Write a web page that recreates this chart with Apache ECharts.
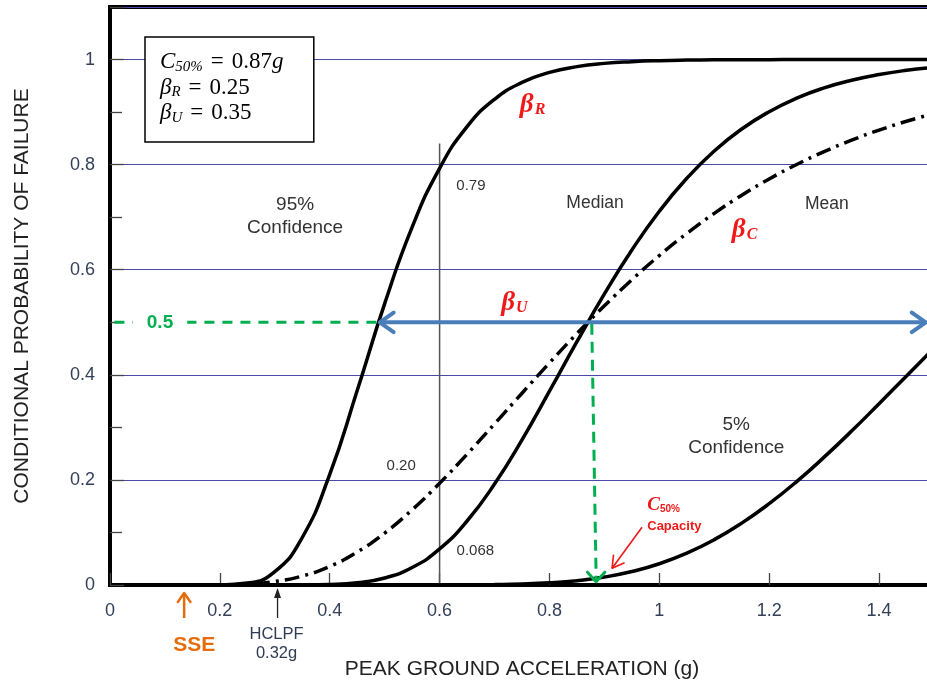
<!DOCTYPE html>
<html><head><meta charset="utf-8">
<script src="https://cdn.jsdelivr.net/npm/echarts@6/dist/echarts.min.js"></script>
<style>html,body{margin:0;padding:0;background:#fff}#c{width:927px;height:684px}</style>
</head><body><div id="c"></div>
<script>
// Peak ground acceleration (g) sample points
const xValues = [0.10,0.15,0.20,0.25,0.30,0.35,0.40,0.45,0.50,0.55,0.60,0.65,0.70,0.75,0.80,0.85,0.90,0.95,1.00,1.05,1.10,1.15,1.20,1.25,1.30,1.35,1.40,1.45,1.50];
// 95% confidence curve
const conf95 = [0,0,0.0002,0.0036,0.0254,0.0904,0.2107,0.370,0.5355,0.681,0.793,0.8725,0.9244,0.9565,0.9755,0.9865,0.9927,0.996,0.9979,0.9989,0.9994,0.9997,0.9998,0.9999,1,1,1,1,1];
// Median curve
const medianCurve = [0,0,0,0,0,0.0001,0.0009,0.0042,0.0134,0.0333,0.0686,0.1218,0.1922,0.2763,0.3688,0.463,0.554,0.6376,0.7113,0.774,0.826,0.8678,0.9008,0.9265,0.946,0.9606,0.9715,0.9795,0.9853];
// Mean curve (composite beta)
const meanCurve = [0,0,0.0003,0.0019,0.0067,0.0171,0.0354,0.0626,0.0989,0.1432,0.1938,0.2489,0.3066,0.365,0.4227,0.4785,0.5314,0.581,0.627,0.669,0.7073,0.7418,0.7727,0.8003,0.8248,0.8465,0.8657,0.8825,0.8974];
// 5% confidence curve
const conf5 = [0,0,0,0,0,0,0,0,0,0,0.0001,0.0003,0.0008,0.0019,0.0042,0.0083,0.0151,0.0256,0.0405,0.0606,0.0863,0.1178,0.1548,0.1968,0.2433,0.2929,0.345,0.3979,0.451];
// reference vertical line at 0.6 g
const refLineX = [0.6, 0.6];
const refLineY = [0, 0.84];
const xTickLabels = ['0','0.2','0.4','0.6','0.8','1','1.2','1.4'];
const yTickLabels = ['0','0.2','0.4','0.6','0.8','1'];

const chart = echarts.init(document.getElementById('c'), null, {renderer:'canvas'});
const pair = arr => xValues.map((x,i)=>[x, arr[i]]);
const curve = (name, arr, type) => ({
  type:'line', name, data: pair(arr), showSymbol:false, symbol:'none',
  smooth:0.5, silent:true, z:5,
  lineStyle:{color:'#000', width:3.5, type:type, cap:'butt'}
});
const labelColor = '#34405a';
const sans = 'Liberation Sans, Arial, sans-serif';

chart.setOption({
  animation:false,
  grid:{left:110, top:7, right:-7, bottom:99, outerBoundsMode:'none', containLabel:false,
    show:true, borderColor:'#000', borderWidth:4, backgroundColor:'#fff'},
  xAxis:{
    type:'value', min:0, max:1.5, interval:0.2,
    axisLine:{show:true, onZero:false, lineStyle:{color:'#000', width:4}},
    axisTick:{show:true, inside:true, length:12, lineStyle:{color:'#444', width:1.3}},
    axisLabel:{margin:17, fontSize:18, color:labelColor, fontFamily:sans,
      formatter:(v)=>{const i=Math.round(v/0.2); return (Math.abs(v-i*0.2)<1e-6 && i<xTickLabels.length)?xTickLabels[i]:'';}},
    splitLine:{show:false},
    name:'PEAK GROUND ACCELERATION (g)', nameLocation:'middle', nameGap:74,
    nameTextStyle:{fontSize:21, color:'#222', fontFamily:sans}
  },
  yAxis:{
    type:'value', min:0, max:1.1, interval:0.2,
    axisLine:{show:true, lineStyle:{color:'#000', width:4}},
    axisTick:{show:true, inside:true, length:14, lineStyle:{color:'#444', width:1.3}},
    minorTick:{show:true, splitNumber:2, length:12, lineStyle:{color:'#444', width:1.3}},
    axisLabel:{margin:15, fontSize:18, color:labelColor, fontFamily:sans,
      formatter:(v)=>{const i=Math.round(v/0.2); return (Math.abs(v-i*0.2)<1e-6 && i<yTickLabels.length)?yTickLabels[i]:'';}},
    splitLine:{show:true, lineStyle:{color:'#4a4aa6', width:1.2}},
    name:'CONDITIONAL PROBABILITY OF FAILURE', nameLocation:'middle', nameGap:77,
    nameTextStyle:{fontSize:21, color:'#222', fontFamily:sans}
  },
  series:[
    {type:'line', data: refLineX.map((x,i)=>[x, refLineY[i]]), showSymbol:false, symbol:'none', silent:true, z:3,
      lineStyle:{color:'#555', width:1.5}},
    curve('95%', conf95, 'solid'),
    curve('Median', medianCurve, 'solid'),
    curve('Mean', meanCurve, [15,6,3,6]),
    curve('5%', conf5, 'solid')
  ]
});

const P = (x,y)=>chart.convertToPixel({gridIndex:0},[x,y]);
function chevron(tip, angleDeg, len, spread, color, w){
  const a = angleDeg*Math.PI/180, s = spread*Math.PI/180;
  const b1 = a + Math.PI - s, b2 = a + Math.PI + s;
  return {type:'polyline', z:60, silent:true,
    shape:{points:[[tip[0]+len*Math.cos(b1), tip[1]+len*Math.sin(b1)], tip, [tip[0]+len*Math.cos(b2), tip[1]+len*Math.sin(b2)]]},
    style:{stroke:color, lineWidth:w, fill:null, lineCap:'round', lineJoin:'round'}};
}
function line(p1,p2,color,w,dash){
  return {type:'line', z:55, silent:true, shape:{x1:p1[0],y1:p1[1],x2:p2[0],y2:p2[1]},
    style:{stroke:color, lineWidth:w, lineDash:dash||null}};
}
function text(p, t, style){
  return {type:'text', z:70, silent:true, x:p[0], y:p[1],
    style:Object.assign({text:t, align:'center', verticalAlign:'middle', fontFamily:sans, fontSize:18, fill:'#333', lineHeight:23}, style)};
}
const red = '#f01818', green = '#00b050', blue = '#4a7ebb', orange = '#e46c0a';
const serif = 'Liberation Serif, serif';
const betaRich = {
  b:{fontFamily:serif, fontStyle:'italic', fontWeight:'bold', fontSize:27, fill:red},
  s:{fontFamily:serif, fontStyle:'italic', fontWeight:'bold', fontSize:16, fill:red, padding:[10,0,0,1]}
};
const els = [];
// parameter box
const b0 = P(0.0637, 1.043), b1 = P(0.371, 0.843);
els.push({type:'rect', z:50, silent:true, shape:{x:b0[0], y:b0[1], width:b1[0]-b0[0], height:b1[1]-b0[1]},
  style:{fill:'#fff', stroke:'#000', lineWidth:1.5}});
const bt = P(0.091, 0.946);
els.push({type:'text', z:70, silent:true, x:bt[0], y:bt[1], style:{
  text:'{i|C}{s|50%}{e|=}{n|0.87}{i|g}\n{i|β}{s|R}{e|=}{n|0.25}\n{i|β}{s|U}{e|=}{n|0.35}',
  align:'left', verticalAlign:'middle', fill:'#000',
  rich:{
    i:{fontFamily:serif, fontStyle:'italic', fontSize:23, fill:'#000', lineHeight:25.5},
    s:{fontFamily:serif, fontStyle:'italic', fontSize:15, fill:'#000', lineHeight:25.5, padding:[9,0,0,0]},
    e:{fontFamily:serif, fontSize:23, fill:'#000', lineHeight:25.5, padding:[0,8,0,8]},
    n:{fontFamily:serif, fontSize:23, fill:'#000', lineHeight:25.5}
  }}});
// region labels
els.push(text(P(0.337, 0.701), '95%\nConfidence', {fontSize:19}));
els.push(text(P(0.883, 0.727), 'Median', {fontSize:17.5}));
els.push(text(P(1.305, 0.725), 'Mean', {fontSize:17.5}));
els.push(text(P(1.140, 0.284), '5%\nConfidence', {fontSize:19}));
els.push(text(P(0.657, 0.759), '0.79', {fontSize:15}));
els.push(text(P(0.530, 0.226), '0.20', {fontSize:15}));
els.push(text(P(0.665, 0.065), '0.068', {fontSize:15}));
// beta labels
[[0.746,0.913,'R'],[1.132,0.676,'C'],[0.712,0.537,'U']].forEach(([x,y,sub])=>{
  const p = P(x,y);
  els.push({type:'text', z:70, silent:true, x:p[0], y:p[1], style:{text:'{b|β}{s|'+sub+'}', align:'left', verticalAlign:'middle', rich:betaRich}});
});
// green 0.5 dashed line and label
els.push(line(P(0.008,0.5), P(0.487,0.5), green, 3, [10,8]));
const g5 = P(0.091,0.5);
els.push({type:'text', z:70, silent:true, x:g5[0], y:g5[1], style:{text:'0.5', align:'center', verticalAlign:'middle',
  fontFamily:sans, fontSize:19, fontWeight:'bold', fill:green, backgroundColor:'#fff', padding:[2,14,2,14]}});
// blue double arrow (beta U)
const bl = P(0.491,0.5), br = P(1.485,0.5);
els.push(line(bl, br, blue, 4));
els.push(chevron(bl, 180, 17, 35, blue, 4));
els.push(chevron(br, 0, 17, 35, blue, 4));
// green vertical dashed arrow at C50
const gv1 = P(0.877,0.497), gv2 = P(0.885,0.006);
els.push(line(gv1, [gv2[0], gv2[1]-2], green, 3, [11,7]));
els.push(chevron(gv2, 90, 13, 42, green, 3));
// C50% capacity red arrow
const rt = P(0.9685,0.110), rh = P(0.914,0.032);
els.push(line(rt, rh, red, 1.6));
els.push(chevron(rh, Math.atan2(rh[1]-rt[1], rh[0]-rt[0])*180/Math.PI, 13, 30, red, 1.6));
const cl = P(0.978,0.152);
els.push({type:'text', z:70, silent:true, x:cl[0], y:cl[1], style:{text:'{c|C}{s|50%}', align:'left', verticalAlign:'middle',
  rich:{c:{fontFamily:serif, fontStyle:'italic', fontWeight:'bold', fontSize:19, fill:red},
        s:{fontFamily:sans, fontWeight:'bold', fontSize:10, fill:red, padding:[8,0,0,0]}}}});
const cap = P(0.978,0.112);
els.push(text(cap, 'Capacity', {align:'left', fontSize:13, fontWeight:'bold', fill:red}));
// SSE arrow
const sse = P(0.135, 0);
els.push(line([sse[0], sse[1]+33], [sse[0], sse[1]+9], orange, 2.5));
els.push(chevron([sse[0], sse[1]+8], -90, 11, 35, orange, 2.5));
els.push(text([sse[0]+10, sse[1]+60], 'SSE', {fontSize:21, fontWeight:'bold', fill:orange}));
// HCLPF arrow
const hc = P(0.305, 0);
els.push(line([hc[0], hc[1]+33], [hc[0], hc[1]+6], '#222', 1.3));
els.push({type:'polygon', z:60, silent:true, shape:{points:[[hc[0], hc[1]+3],[hc[0]-3.5, hc[1]+13],[hc[0]+3.5, hc[1]+13]]}, style:{fill:'#222'}});
els.push(text([hc[0]-1, hc[1]+59], 'HCLPF\n0.32g', {fontSize:16.5, fill:'#2f3a55', lineHeight:19}));

chart.setOption({graphic:{elements:els}});
</script>
</body></html>
